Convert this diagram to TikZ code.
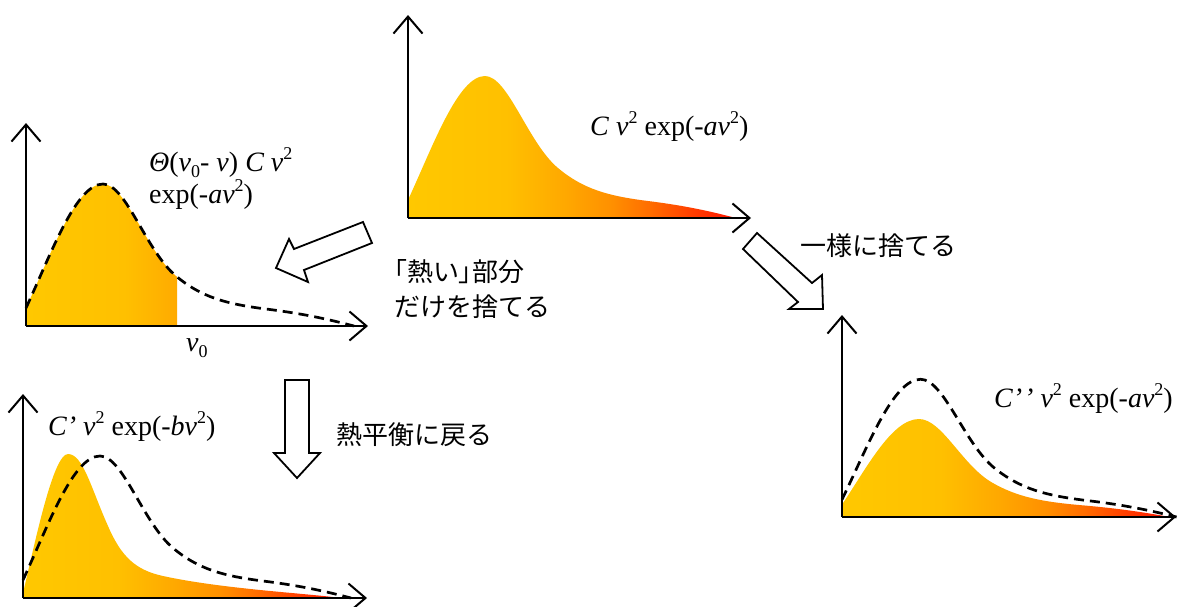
\documentclass[tikz,border=0pt]{standalone}
\usepackage{fontspec}
\setmainfont{Liberation Serif}
\newfontfamily\jp{Noto Sans CJK JP}
\newfontfamily\jpp[RawFeature=+palt]{Noto Sans CJK JP}
\usetikzlibrary{arrows.meta}
\definecolor{c0}{HTML}{FFC800}
\definecolor{c1}{HTML}{FFC000}
\definecolor{c2}{HTML}{FFA800}
\definecolor{c3}{HTML}{FF9000}
\definecolor{c4}{HTML}{FF6C00}
\definecolor{c5}{HTML}{FF4000}
\definecolor{c6}{HTML}{FF1A00}
\pgfdeclarehorizontalshading{maxw}{100bp}{color(0bp)=(c0); color(25bp)=(c0); color(40bp)=(c1); color(49bp)=(c2); color(56bp)=(c3); color(62bp)=(c4); color(68bp)=(c5); color(74bp)=(c6); color(100bp)=(c6)}
\newcommand\sups[1]{\raisebox{0.42em}{\fontsize{18}{18}\selectfont #1}}
\newcommand\subs[1]{\raisebox{-0.22em}{\fontsize{18}{18}\selectfont #1}}
\newcommand\curveAf{(0,0) -- (0,18) .. controls (25,72) and (50,142) .. (77,142) .. controls (100,142) and (120,75) .. (150,50) .. controls (175,29) and (200,22) .. (240,17) .. controls (280,12) and (305,6) .. (328,0) -- cycle}
\newcommand\curveAl{(0,18) .. controls (25,72) and (50,142) .. (77,142) .. controls (100,142) and (120,75) .. (150,50) .. controls (175,29) and (200,22) .. (240,17) .. controls (280,12) and (305,6) .. (328,0)}
\newcommand\curveBf{(0,0) -- (0,5) .. controls (12,55) and (30,144) .. (45,144) .. controls (60,144) and (68,110) .. (85,72) .. controls (98,42) and (112,28) .. (140,22) .. controls (200,9) and (280,5) .. (318,0) -- cycle}
\tikzset{
  axis/.style={line width=2pt, -{Straight Barb[length=17pt,width=29pt]}},
  dashline/.style={line width=2.7pt, dash pattern=on 10pt off 6pt},
  blockarrow/.style={draw=black, fill=white, line width=1.8pt, line join=miter},
  fml/.style={inner sep=0pt, font=\fontsize{28}{28}\selectfont},
  jtxt/.style={inner sep=0pt, font=\jp\fontsize{26}{35}\selectfont},
}
\begin{document}
\begin{tikzpicture}[x=1pt,y=-1pt]
\useasboundingbox (0,0) rectangle (1178,606);
% ---------- top graph ----------
\begin{scope}[shift={(408,218)}, yscale=-1]
  \shade[shading=maxw] \curveAf;
\end{scope}
\coordinate (o1) at (408,218);
\coordinate (y1) at (408,15);
\coordinate (x1) at (751,218);
\draw[axis] (o1) -- (y1);
\draw[axis] (o1) -- (x1);
\node[fml, anchor=base west] (f1) at (590,135) {\textit{C} \textit{v}\sups{2} exp(-\textit{av}\sups{2})};
% ---------- middle-left graph ----------
\begin{scope}[shift={(26,326)}, yscale=-1]
  \begin{scope}
    \clip (0,-2) rectangle (151,200);
    \shade[shading=maxw] \curveAf;
  \end{scope}
  \draw[dashline] \curveAl;
\end{scope}
\coordinate (o2) at (26,326);
\coordinate (y2) at (26,123);
\coordinate (x2) at (368,326);
\draw[axis] (o2) -- (y2);
\draw[axis] (o2) -- (x2);
\node[fml, anchor=base west] (f2) at (149,171) {\begin{tabular}[t]{@{}l@{}}\textit{Θ}(\textit{v}\subs{0}- \textit{v}) \textit{C v}\sups{2}\\exp(-\textit{av}\sups{2})\end{tabular}};
\node[fml, anchor=base west] (v0) at (186,351) {\textit{v}\subs{0}};
% ---------- bottom-left graph ----------
\begin{scope}[shift={(23,598)}, yscale=-1]
  \shade[shading=maxw] \curveBf;
  \draw[dashline] \curveAl;
\end{scope}
\coordinate (o3) at (23,598);
\coordinate (y3) at (23,394);
\coordinate (x3) at (367,598);
\draw[axis] (o3) -- (y3);
\draw[axis] (o3) -- (x3);
\node[fml, anchor=base west] (f3) at (48,435) {\textit{C’ v}\sups{2} exp(-\textit{bv}\sups{2})};
% ---------- bottom-right graph ----------
\begin{scope}[shift={(842,517)}, yscale=-1]
  \begin{scope}[yscale=0.69]
    \shade[shading=maxw] \curveAf;
  \end{scope}
  \begin{scope}[xscale=1.02, yscale=0.97]
    \draw[dashline] \curveAl;
  \end{scope}
\end{scope}
\coordinate (o4) at (842,517);
\coordinate (y4) at (842,315);
\coordinate (x4) at (1176,517);
\draw[axis] (o4) -- (y4);
\draw[axis] (o4) -- (x4);
\node[fml, anchor=base west] (f4) at (994,407) {\textit{C’\kern2pt’ v}\sups{2} exp(-\textit{av}\sups{2})};
% ---------- block arrows ----------
\draw[blockarrow] (363,222) -- (372,243) -- (304,270) -- (308,282) -- (276,268) -- (289,239) -- (294,249) -- cycle;
\draw[blockarrow] (757,233) -- (812,283) -- (822,275) -- (823,309) -- (789,309) -- (798,302) -- (743,249) -- cycle;
\draw[blockarrow] (285,380) -- (309,380) -- (309,453) -- (320,453) -- (297,478) -- (274,453) -- (285,453) -- cycle;
% ---------- labels ----------
\node[jtxt, anchor=base west] (t1) at (800,255) {一様に捨てる};
\node[jtxt, anchor=base west] (t2) at (394,281) {\begin{tabular}[t]{@{}l@{}}{\jpp 「}熱い{\jpp 」}部分\\だけを捨てる\end{tabular}};
\node[jtxt, anchor=base west] (t3) at (336,444) {熱平衡に戻る};
\end{tikzpicture}
\end{document}
